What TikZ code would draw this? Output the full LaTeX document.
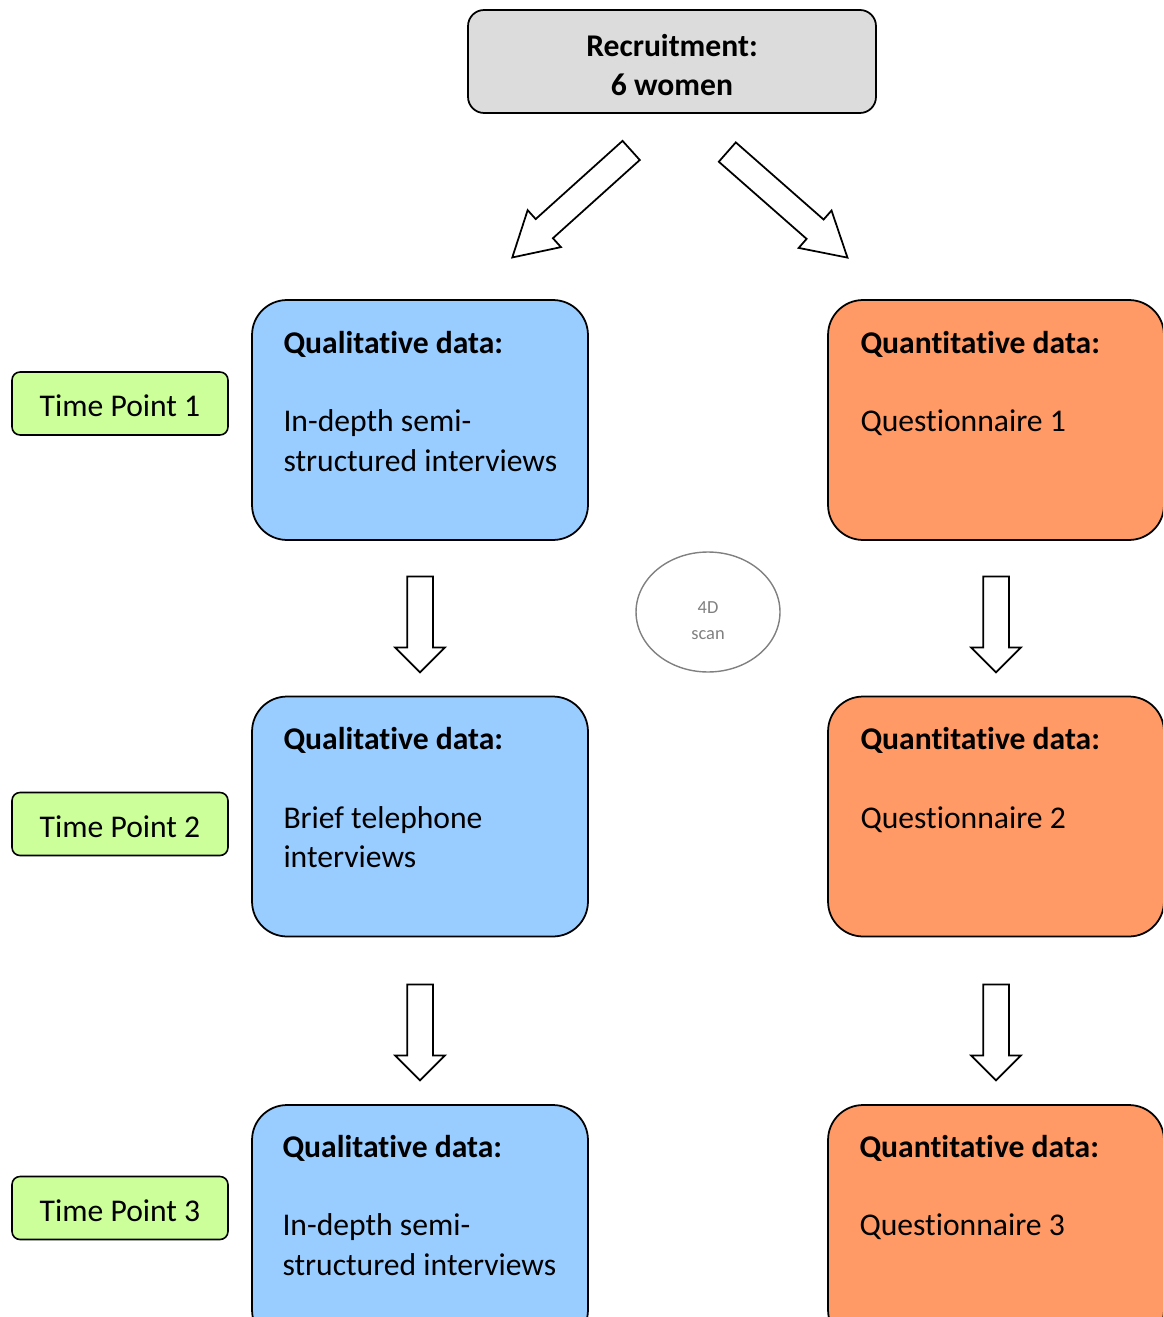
\documentclass[tikz,border=0pt]{standalone}
\usepackage{fontspec}
\setmainfont{Carlito}[Ligatures=NoCommon]
\usepackage{tikz}
\usetikzlibrary{shapes.geometric, shapes.arrows, positioning}

\definecolor{recgray}{RGB}{220,220,220}
\definecolor{qualblue}{RGB}{153,204,255}
\definecolor{quantorange}{RGB}{255,153,102}
\definecolor{timegreen}{RGB}{204,255,153}
\definecolor{scangray}{RGB}{128,128,128}

\tikzset{
    bigtext/.style={font=\fontsize{18}{22.4}\selectfont},
    recbox/.style={draw, line width=1pt, fill=recgray, rounded corners=0.32cm, minimum width=8.16cm, minimum height=2.06cm, align=center, text height=39pt, text depth=0pt, bigtext},
    databox/.style={draw, line width=1pt, rounded corners=0.7cm, minimum width=6.72cm, minimum height=4.8cm},
    qualbox/.style={databox, fill=qualblue},
    quantbox/.style={databox, fill=quantorange},
    boxtext/.style={inner sep=0pt, align=left, bigtext},
    timebox/.style={draw, line width=0.9pt, fill=timegreen, rounded corners=0.16cm, minimum width=4.32cm, minimum height=1.26cm, text height=15pt, text depth=0pt, bigtext},
    scanoval/.style={ellipse, draw=scangray, line width=0.8pt, minimum width=2.88cm, minimum height=2.4cm, text=scangray, align=center, text height=31.5pt, text depth=0pt, font=\fontsize{10.5}{14.7}\selectfont},
    blockarrow/.style={single arrow, draw, line width=1pt, fill=white, inner xsep=0pt, inner ysep=0.24cm, single arrow head extend=0.24cm},
    downarrow/.style={blockarrow, minimum height=1.92cm, rotate=-90},
    diagarrow/.style={blockarrow, minimum height=3.2cm, single arrow tip angle=60}
}

\begin{document}
\begin{tikzpicture}[x=0.02cm, y=-0.02cm]
    \useasboundingbox (0,0) rectangle (1163,1317);
    \clip (0,0) rectangle (1163,1317);

    % Recruitment
    \node[recbox] (rec) at (672,61.5) {\textbf{Recruitment:}\\\textbf{6 women}};

    \node[diagarrow, rotate=222] (split1) at (580,196.5) {};
    \node[diagarrow, rotate=-41.3] (split2) at (779,197.5) {};

    % Time points
    \node[timebox] (tp1) at (120,403.5) {Time Point 1};
    \node[timebox] (tp2) at (120,824) {Time Point 2};
    \node[timebox] (tp3) at (120,1208) {Time Point 3};

    % Qualitative column
    \node[qualbox] (ql1) at (420,420) {};
    \node[qualbox] (ql2) at (420,816.5) {};
    \node[qualbox] (ql3) at (420,1225) {};

    \node[boxtext, below right=0.63cm and 0.64cm of ql1.north west] (ql1t) {\textbf{Qualitative data:}\\[22.4pt]In-depth semi-\\structured interviews};
    \node[boxtext, below right=0.63cm and 0.64cm of ql2.north west] (ql2t) {\textbf{Qualitative data:}\\[22.4pt]Brief telephone\\interviews};
    \node[boxtext, below right=0.61cm and 0.62cm of ql3.north west] (ql3t) {\textbf{Qualitative data:}\\[22.4pt]In-depth semi-\\structured interviews};

    % Quantitative column
    \node[quantbox] (qn1) at (996,420) {};
    \node[quantbox] (qn2) at (996,816.5) {};
    \node[quantbox] (qn3) at (996,1225) {};

    \node[boxtext, below right=0.63cm and 0.66cm of qn1.north west] (qn1t) {\textbf{Quantitative data:}\\[22.4pt]Questionnaire 1};
    \node[boxtext, below right=0.63cm and 0.66cm of qn2.north west] (qn2t) {\textbf{Quantitative data:}\\[22.4pt]Questionnaire 2};
    \node[boxtext, below right=0.61cm and 0.64cm of qn3.north west] (qn3t) {\textbf{Quantitative data:}\\[22.4pt]Questionnaire 3};

    % Arrows between rows
    \node[downarrow] (ql12) at (420,618) {};
    \node[downarrow] (qn12) at (996,618) {};
    \node[downarrow] (ql23) at (420,1026) {};
    \node[downarrow] (qn23) at (996,1026) {};

    % 4D scan
    \node[scanoval] (scan) at (708,612) {4D\\scan};
\end{tikzpicture}
\end{document}
